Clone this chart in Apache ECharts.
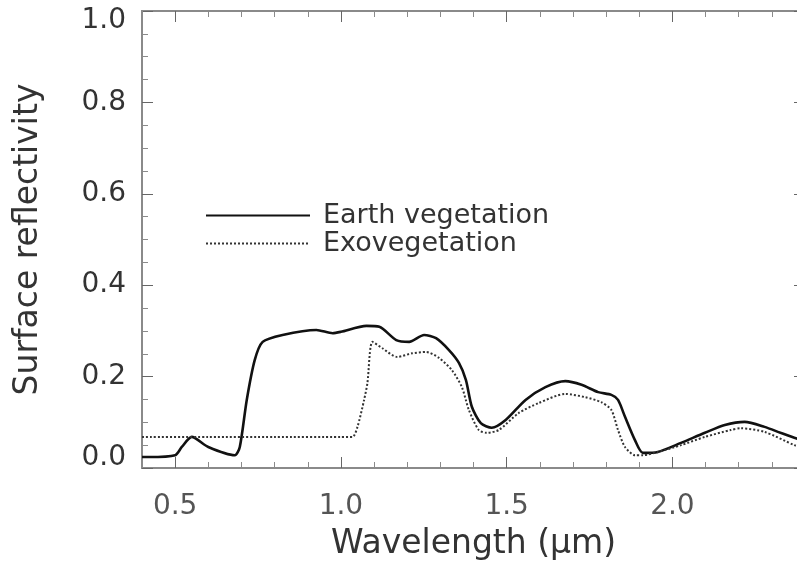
<!DOCTYPE html>
<html>
<head>
<meta charset="utf-8">
<script src="https://cdn.jsdelivr.net/npm/echarts@6/dist/echarts.min.js"></script>
<style>
    html, body { margin: 0; padding: 0; background: #fff; }
    #chart { width: 797px; height: 568px; }
</style>
</head>
<body>
<div id="chart"></div>
<script>
    // wavelength (um) and reflectivity
    const earthX = [0.40, 0.42, 0.50, 0.52, 0.55, 0.60, 0.68, 0.695, 0.716, 0.74, 0.764, 0.824, 0.926, 0.975,
        1.00, 1.077, 1.116, 1.167, 1.206, 1.251, 1.287, 1.326, 1.356, 1.377, 1.395, 1.422, 1.455, 1.497,
        1.557, 1.617, 1.677, 1.726, 1.776, 1.816, 1.836, 1.857, 1.887, 1.911, 1.956, 2.026, 2.098,
        2.158, 2.218, 2.278, 2.326, 2.368, 2.40];
    const earthY = [0.024, 0.024, 0.028, 0.046, 0.068, 0.046, 0.028, 0.046, 0.149, 0.236, 0.276, 0.291, 0.302, 0.295,
        0.298, 0.311, 0.309, 0.280, 0.276, 0.291, 0.284, 0.258, 0.230, 0.193, 0.134, 0.098, 0.088, 0.105,
        0.149, 0.177, 0.190, 0.182, 0.166, 0.160, 0.149, 0.112, 0.061, 0.033, 0.035, 0.055, 0.077,
        0.094, 0.101, 0.090, 0.077, 0.066, 0.058];

    const exoX = [0.40, 0.60, 0.80, 1.00, 1.035, 1.05, 1.07, 1.08, 1.095, 1.125, 1.17, 1.215, 1.257, 1.296,
        1.335, 1.365, 1.386, 1.416, 1.44, 1.476, 1.536, 1.596, 1.677, 1.737, 1.785, 1.816, 1.836, 1.857,
        1.887, 1.911, 1.956, 2.026, 2.098, 2.176, 2.206, 2.278, 2.368, 2.40];
    const exoY = [0.068, 0.068, 0.068, 0.068, 0.068, 0.090, 0.149, 0.186, 0.276, 0.262, 0.243, 0.251, 0.254, 0.241,
        0.214, 0.177, 0.127, 0.083, 0.077, 0.083, 0.120, 0.142, 0.162, 0.155, 0.144, 0.127, 0.083, 0.046,
        0.028, 0.028, 0.035, 0.050, 0.068, 0.083, 0.087, 0.079, 0.050, 0.042];

    const xMajor = [0.5, 1.0, 1.5, 2.0];

    const pairs = (xs, ys) => xs.map((x, i) => [x, ys[i]]);

    const FONT = 'DejaVu Sans';
    const AXIS_GREY = '#8a8a8a';

    function xAxisDef(position, major, labels) {
        return {
            type: 'value',
            position: position,
            min: 0.4,
            max: 2.4,
            interval: 0.1,
            axisLine: {show: true, onZero: false, lineStyle: {color: AXIS_GREY, width: 2}},
            axisTick: {
                show: true,
                inside: true,
                length: major ? 11 : 6,
                customValues: major ? xMajor : undefined,
                lineStyle: {color: major ? '#666' : AXIS_GREY, width: 1}
            },
            axisLabel: {
                show: labels,
                customValues: xMajor,
                margin: 25,
                fontFamily: FONT,
                fontSize: 28,
                color: '#555',
                formatter: v => v.toFixed(1)
            },
            splitLine: {show: false},
            name: labels ? 'Wavelength (μm)' : '',
            nameLocation: 'middle',
            nameGap: 60,
            nameTextStyle: {fontFamily: FONT, fontSize: 33, color: '#333'}
        };
    }

    // IDL keeps the end labels inside the frame
    function yLabel(v) {
        const s = v.toFixed(1);
        if (v >= 1) return '{top|' + s + '}';
        if (v <= 0) return '{bot|' + s + '}';
        return s;
    }

    function yAxisDef(position, labels) {
        return {
            type: 'value',
            position: position,
            min: 0,
            max: 1.0,
            interval: 0.2,
            axisLine: {show: true, lineStyle: {color: AXIS_GREY, width: 2}},
            axisTick: {show: true, inside: true, length: 11, lineStyle: {color: '#666'}},
            minorTick: {show: true, splitNumber: 4, length: 6, lineStyle: {color: AXIS_GREY}},
            axisLabel: {
                show: labels,
                margin: 16,
                fontFamily: FONT,
                fontSize: 28,
                color: '#333',
                formatter: yLabel,
                rich: {
                    top: {fontFamily: FONT, fontSize: 28, color: '#333', padding: [20, 0, 0, 0]},
                    bot: {fontFamily: FONT, fontSize: 28, color: '#333', padding: [0, 0, 20, 0]}
                }
            },
            splitLine: {show: false},
            name: labels ? 'Surface reflectivity' : '',
            nameLocation: 'middle',
            nameGap: 97,
            nameTextStyle: {fontFamily: FONT, fontSize: 33, color: '#333'}
        };
    }

    const chart = echarts.init(document.getElementById('chart'), null, {renderer: 'canvas'});
    chart.setOption({
        animation: false,
        backgroundColor: '#fff',
        grid: {left: 142, right: -8, top: 11, bottom: 100, containLabel: false, outerBoundsMode: 'none'},
        legend: {
            orient: 'vertical',
            left: 200,
            top: 197,
            itemWidth: 104,
            itemHeight: 14,
            itemGap: 1,
            itemStyle: {opacity: 0},
            textStyle: {fontFamily: FONT, fontSize: 27, color: '#333', padding: [0, 0, 0, 8]},
            data: ['Earth vegetation', 'Exovegetation']
        },
        xAxis: [
            xAxisDef('bottom', false, false),
            xAxisDef('bottom', true, true),
            xAxisDef('top', false, false),
            xAxisDef('top', true, false)
        ],
        yAxis: [
            yAxisDef('left', true),
            yAxisDef('right', false)
        ],
        series: [
            {
                name: 'Earth vegetation',
                type: 'line',
                xAxisIndex: 0,
                yAxisIndex: 0,
                data: pairs(earthX, earthY),
                showSymbol: false,
                symbol: 'none',
                smooth: 0.25,
                lineStyle: {color: '#111', width: 2.6, type: 'solid'},
                itemStyle: {color: '#111'}
            },
            {
                name: 'Exovegetation',
                type: 'line',
                xAxisIndex: 0,
                yAxisIndex: 0,
                data: pairs(exoX, exoY),
                showSymbol: false,
                symbol: 'none',
                smooth: 0.25,
                lineStyle: {color: '#333', width: 2, type: [2, 2]},
                itemStyle: {color: '#333'}
            }
        ]
    });
</script>
</body>
</html>
